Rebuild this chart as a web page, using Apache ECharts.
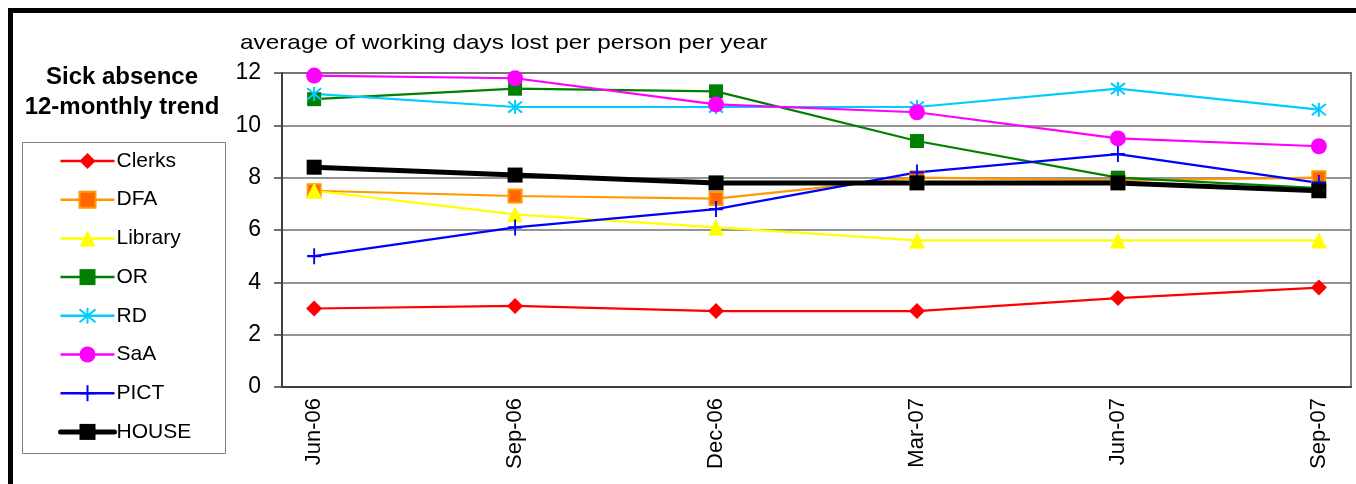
<!DOCTYPE html>
<html>
<head>
<meta charset="utf-8">
<script src="https://cdn.jsdelivr.net/npm/echarts@6/dist/echarts.min.js"></script>
<style>
html,body{margin:0;padding:0;background:#fff;}
#c{width:1356px;height:484px;}
</style>
</head>
<body>
<div id="c"></div>
<script>
const categories = ['Jun-06', 'Sep-06', 'Dec-06', 'Mar-07', 'Jun-07', 'Sep-07'];
const clerks  = [3.0, 3.1, 2.9, 2.9, 3.4, 3.8];
const dfa     = [7.5, 7.3, 7.2, 8.0, 7.9, 8.0];
const library = [7.5, 6.6, 6.1, 5.6, 5.6, 5.6];
const or      = [11.0, 11.4, 11.3, 9.4, 8.0, 7.6];
const rd      = [11.2, 10.7, 10.7, 10.7, 11.4, 10.6];
const saa     = [11.9, 11.8, 10.8, 10.5, 9.5, 9.2];
const pict    = [5.0, 6.1, 6.8, 8.2, 8.9, 7.8];
const house   = [8.4, 8.1, 7.8, 7.8, 7.8, 7.5];
const yTicks  = [0, 2, 4, 6, 8, 10, 12];

const FONT = '"Liberation Sans", Arial, sans-serif';
const pts = arr => arr.map((v, i) => [i, v]);
const ASTERISK = 'path://M5,0L5,10M1,1L9,9M9,1L1,9';
const PLUS = 'path://M5,0L5,10M0,5L10,5';

function mk(name, arr, color, symbol, size, extra) {
  return Object.assign({
    name: name,
    type: 'line',
    data: pts(arr),
    symbol: symbol,
    symbolSize: size,
    showAllSymbol: true,
    lineStyle: { color: color, width: 2.2 },
    itemStyle: { color: color },
    emphasis: { disabled: true },
    animation: false
  }, extra || {});
}

const series = [
  mk('Clerks', clerks, '#FF0000', 'diamond', 16),
  mk('DFA', dfa, '#FF9900', 'rect', 13, { itemStyle: { color: '#FF6600', borderColor: '#FF9900', borderWidth: 2 } }),
  mk('Library', library, '#FFFF00', 'triangle', 16),
  mk('OR', or, '#008000', 'rect', 14),
  mk('RD', rd, '#00CCFF', ASTERISK, 14, { itemStyle: { color: '#00CCFF', borderColor: '#00CCFF', borderWidth: 2 } }),
  mk('SaA', saa, '#FF00FF', 'circle', 16),
  mk('PICT', pict, '#0000FF', PLUS, [14, 16], { itemStyle: { color: '#0000FF', borderColor: '#0000FF', borderWidth: 2 } }),
  mk('HOUSE', house, '#000000', 'rect', 15, { lineStyle: { color: '#000', width: 5 } })
];

const legendData = series.map(s => {
  const d = { name: s.name };
  if (s.name === 'HOUSE') d.lineStyle = { width: 5, color: '#000', cap: 'round' };
  else d.lineStyle = { width: 2.5 };
  return d;
});

const chart = echarts.init(document.getElementById('c'), null, { renderer: 'canvas' });
chart.setOption({
  backgroundColor: '#fff',
  animation: false,
  textStyle: { fontFamily: FONT },
  grid: {
    left: 282, right: 5, top: 73, bottom: 97,
    show: true, borderColor: '#808080', borderWidth: 2, backgroundColor: 'transparent'
  },
  xAxis: {
    type: 'value',
    min: -0.16, max: 5.16,
    splitLine: { show: false },
    axisTick: { show: false },
    axisLine: { show: true, onZero: false, lineStyle: { color: '#404040', width: 2 } },
    axisLabel: {
      customValues: categories.map((c, i) => i),
      formatter: v => categories[Math.round(v)],
      rotate: 90, fontSize: 22, color: '#000', fontFamily: FONT, margin: 11
    }
  },
  yAxis: {
    type: 'value', min: 0, max: 12, interval: 2,
    axisLine: { show: true, onZero: false, lineStyle: { color: '#404040', width: 2 } },
    axisTick: { show: true, length: 8, lineStyle: { color: '#404040', width: 1.5 } },
    axisLabel: { fontSize: 23, color: '#000', fontFamily: FONT, margin: 21,
      formatter: v => (yTicks.indexOf(v) >= 0 ? String(v) : '') },
    splitLine: { show: true, lineStyle: { color: '#707070', width: 1.5 } }
  },
  legend: {
    orient: 'vertical',
    left: 58, top: 149,
    itemWidth: 54, itemHeight: 20, itemGap: 14.7,
    padding: 0,
    textStyle: { fontSize: 21, color: '#000', fontFamily: FONT, lineHeight: 24, padding: [0, 0, 0, -3] },
    data: legendData,
    selectedMode: false
  },
  graphic: [
    { type: 'rect', shape: { x: 10.5, y: 10.5, width: 1400, height: 600 },
      style: { fill: 'none', stroke: '#000', lineWidth: 5 }, silent: true, z: 100 },
    { type: 'rect', shape: { x: 22.5, y: 142.5, width: 203, height: 311 },
      style: { fill: 'none', stroke: '#808080', lineWidth: 1 }, silent: true },
    { type: 'text', style: { x: 122, y: 77, text: 'Sick absence', font: 'bold 24px ' + FONT,
      fill: '#000', textAlign: 'center', textVerticalAlign: 'middle' } },
    { type: 'text', style: { x: 122, y: 107, text: '12-monthly trend', font: 'bold 24px ' + FONT,
      fill: '#000', textAlign: 'center', textVerticalAlign: 'middle' } },
    { type: 'text', x: 240, y: 43, scaleX: 1.2,
      style: { x: 0, y: 0, text: 'average of working days lost per person per year',
      font: '20.3px ' + FONT, fill: '#000', textAlign: 'left', textVerticalAlign: 'middle' } }
  ],
  series: series
});
</script>
</body>
</html>
